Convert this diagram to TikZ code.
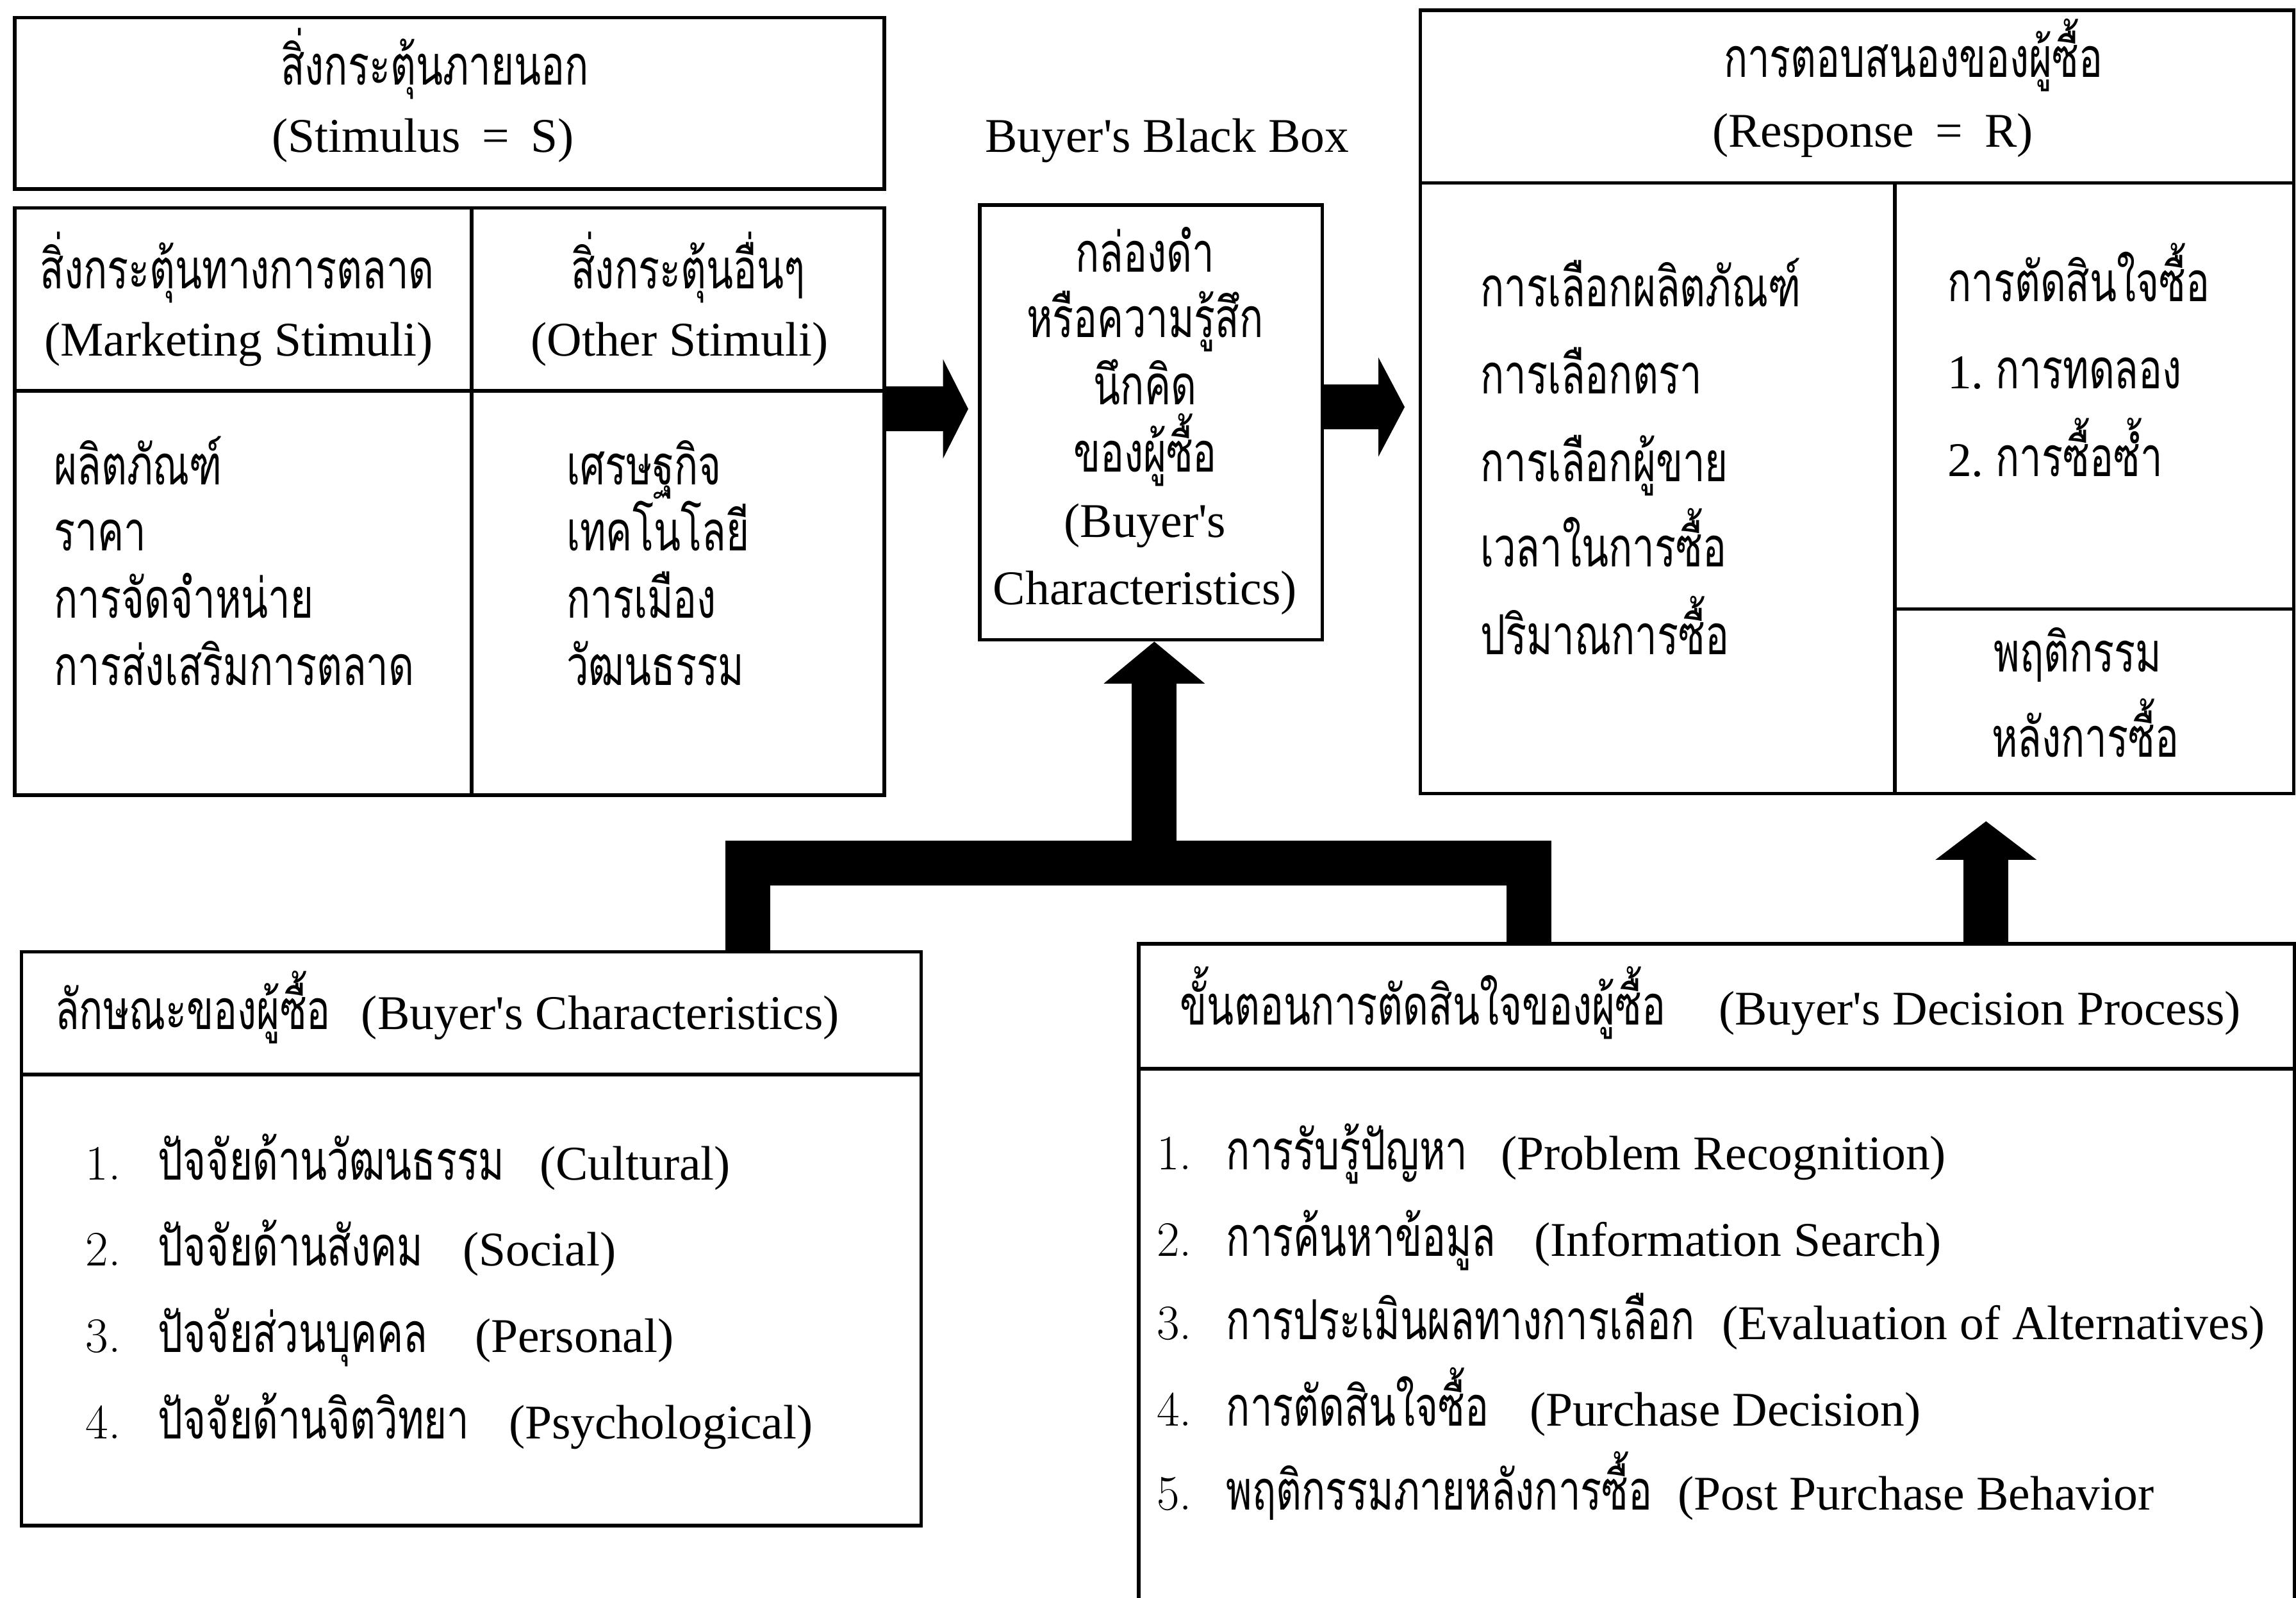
\documentclass[tikz,border=0pt]{standalone}
\usepackage{fontspec}
\usetikzlibrary{arrows.meta,fit}
\newfontfamily\thaifam[Script=Thai,FakeStretch=0.715]{Loma}
\newfontfamily\latfam{Liberation Serif}
\newcommand\thaiF{\thaifam\fontsize{24.5}{28}\selectfont}
\newcommand\latF{\latfam\fontsize{21.5}{26}\selectfont}
\newcommand\onumF{\rmfamily\fontsize{22}{26}\selectfont\addfontfeature{Numbers=OldStyle,FakeBold=1.5}}
\begin{document}
\begin{tikzpicture}[x=0.022851cm,y=-0.022851cm,
  ln/.style={line width=1.6pt},
  box/.style={draw,line width=1.6pt,inner sep=0pt},
  tl/.style={anchor=base west,inner sep=0pt,outer sep=0pt},
  tc/.style={anchor=base,inner sep=0pt,outer sep=0pt},
  th/.style={font=\thaiF},
  la/.style={font=\latF},
  on/.style={font=\onumF},
  conn/.style={line width=0.70cm}]
\useasboundingbox (0,0) rectangle (1568,1091);

% ---- stimulus box
\node[box,fit={(10,12)(604,129)}] (stim) {};
\node[tc,th] (stimT) at (297,58) {สิ่งกระตุ้นภายนอก};
\node[tc,la] (stimL) at (289,104) {(Stimulus\hspace{0.45em}=\hspace{0.45em}S)};

% ---- stimuli box
\node[box,fit={(10,142)(604,543)}] (lbox) {};
\draw[ln] (10,267) -- (604,267);
\draw[ln] (322,142) -- (322,543);
\node[tc,th] (mkT) at (162,197) {สิ่งกระตุ้นทางการตลาด};
\node[tc,la] (mkL) at (163,243) {(Marketing Stimuli)};
\node[tc,th] (otT) at (470,197) {สิ่งกระตุ้นอื่นๆ};
\node[tc,la] (otL) at (464,243) {(Other Stimuli)};
\node[tl,th] (m1) at (37,331) {ผลิตภัณฑ์};
\node[tl,th] (m2) at (37,376) {ราคา};
\node[tl,th] (m3) at (37,422) {การจัดจำหน่าย};
\node[tl,th] (m4) at (37,468) {การส่งเสริมการตลาด};
\node[tl,th] (o1) at (387,331) {เศรษฐกิจ};
\node[tl,th] (o2) at (387,376) {เทคโนโลยี};
\node[tl,th] (o3) at (387,422) {การเมือง};
\node[tl,th] (o4) at (387,468) {วัฒนธรรม};

% ---- black box
\node[tc,la] (bbT) at (797,104) {Buyer's Black Box};
\node[box,fit={(669,140)(903,437)}] (bbox) {};
\node[tc,th] (b1) at (782,185.7) {กล่องดำ};
\node[tc,th] (b2) at (782,230.3) {หรือความรู้สึก};
\node[tc,th] (b3) at (782,276.3) {นึกคิด};
\node[tc,th] (b4) at (782,322.4) {ของผู้ซื้อ};
\node[tc,la] (b5) at (782,366.9) {(Buyer's};
\node[tc,la] (b6) at (782,413) {Characteristics)};

% ---- response box
\node[box,fit={(970,7)(1566.5,542)}] (resp) {};
\draw[ln] (970,125) -- (1566.5,125);
\draw[ln] (1294,125) -- (1294,542);
\draw[ln] (1294,416) -- (1566.5,416);
\node[tc,th] (rT) at (1306.6,52.8) {การตอบสนองของผู้ซื้อ};
\node[tc,la] (rL) at (1279,100.3) {(Response\hspace{0.45em}=\hspace{0.45em}R)};
\node[tl,th] (r1) at (1011,209.3) {การเลือกผลิตภัณฑ์};
\node[tl,th] (r2) at (1011,269) {การเลือกตรา};
\node[tl,th] (r3) at (1011,329) {การเลือกผู้ขาย};
\node[tl,th] (r4) at (1011,387) {เวลาในการซื้อ};
\node[tl,th] (r5) at (1011,447) {ปริมาณการซื้อ};
\node[tl,th] (d0) at (1330,205.8) {การตัดสินใจซื้อ};
\node[tl,la] (d1n) at (1330,265.6) {1.};
\node[tl,th] (d1) at (1363,265.6) {การทดลอง};
\node[tl,la] (d2n) at (1330,325.4) {2.};
\node[tl,th] (d2) at (1363,325.4) {การซื้อซ้ำ};
\node[tc,th] (p1) at (1419,459) {พฤติกรรม};
\node[tc,th] (p2) at (1424,517) {หลังการซื้อ};

% ---- buyer's characteristics box
\node[box,fit={(14.7,650)(629,1042)}] (bl) {};
\draw[ln] (14.7,734) -- (629,734);
\node[tl,th] (blT) at (37.7,703) {ลักษณะของผู้ซื้อ};
\node[tl,la] (blL) at (246.8,703) {(Buyer's Characteristics)};
\node[tl,on] (c1n) at (58.6,805.7) {1.};
\node[tl,th] (c1) at (108,805.7) {ปัจจัยด้านวัฒนธรรม};
\node[tl,la] (c1l) at (368.5,805.7) {(Cultural)};
\node[tl,on] (c2n) at (58.6,864.7) {2.};
\node[tl,th] (c2) at (108,864.7) {ปัจจัยด้านสังคม};
\node[tl,la] (c2l) at (316,864.7) {(Social)};
\node[tl,on] (c3n) at (58.6,923.7) {3.};
\node[tl,th] (c3) at (108,923.7) {ปัจจัยส่วนบุคคล};
\node[tl,la] (c3l) at (324.3,923.7) {(Personal)};
\node[tl,on] (c4n) at (58.6,982.7) {4.};
\node[tl,th] (c4) at (108,982.7) {ปัจจัยด้านจิตวิทยา};
\node[tl,la] (c4l) at (347.5,982.7) {(Psychological)};

% ---- decision process box (open at the bottom)
\node[fit={(778,645)(1566.5,1100)},inner sep=0pt] (br) {};
\draw[ln] (br.south west) |- (br.north east) -- (br.south east);
\draw[ln] (778,730) -- (1566.5,730);
\node[tl,th] (brT) at (806,699.8) {ขั้นตอนการตัดสินใจของผู้ซื้อ};
\node[tl,la] (brL) at (1173.7,699.8) {(Buyer's Decision Process)};
\node[tl,on] (s1n) at (790,798.7) {1.};
\node[tl,th] (s1) at (837.5,798.7) {การรับรู้ปัญหา};
\node[tl,la] (s1l) at (1025.1,798.7) {(Problem Recognition)};
\node[tl,on] (s2n) at (790,857.8) {2.};
\node[tl,th] (s2) at (837.5,857.8) {การค้นหาข้อมูล};
\node[tl,la] (s2l) at (1047.7,857.8) {(Information Search)};
\node[tl,on] (s3n) at (790,915) {3.};
\node[tl,th] (s3) at (837.5,915) {การประเมินผลทางการเลือก};
\node[tl,la] (s3l) at (1175.9,915) {(Evaluation of Alternatives)};
\node[tl,on] (s4n) at (790,974) {4.};
\node[tl,th] (s4) at (837.5,974) {การตัดสินใจซื้อ};
\node[tl,la] (s4l) at (1044.6,974) {(Purchase Decision)};
\node[tl,on] (s5n) at (790,1031.3) {5.};
\node[tl,th] (s5) at (837.5,1031.3) {พฤติกรรมภายหลังการซื้อ};
\node[tl,la] (s5l) at (1146,1031.3) {(Post Purchase Behavior};

% ---- connectors
\coordinate (ay1) at (0,279.3);
\coordinate (ay2) at (0,278);
\draw[conn,-{Triangle[width=1.549cm,length=0.393cm,line width=0pt]},shorten >=0.15cm]
  (lbox.east |- ay1) -- (bbox.west |- ay1);
\draw[conn,-{Triangle[width=1.549cm,length=0.41cm,line width=0pt]},shorten >=0.217cm]
  (bbox.east |- ay2) -- (resp.west |- ay2);
\coordinate (legL) at (510.5,589.5);
\coordinate (legR) at (1044,589.5);
\coordinate (stem) at (788.3,589.5);
\draw[conn,line join=miter] (legL |- bl.north) -- (legL) -- (legR) -- (legR |- br.north);
\draw[conn,-{Triangle[width=1.577cm,length=0.654cm,line width=0pt]}] (stem) -- (stem |- bbox.south);
\coordinate (ax3) at (1356.3,0);
\draw[conn,-{Triangle[width=1.577cm,length=0.60cm,line width=0pt]},shorten >=0.405cm]
  (ax3 |- br.north) -- (ax3 |- resp.south);
\end{tikzpicture}
\end{document}
